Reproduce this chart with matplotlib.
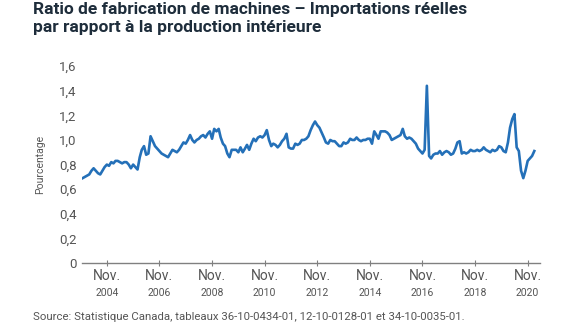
import matplotlib
matplotlib.use("Agg")
import matplotlib.pyplot as plt
import matplotlib.transforms as mtransforms
import pandas as pd

plt.rcParams['font.family'] = ['Roboto', 'DejaVu Sans']

# Monthly ratio, Dec 2003 - Feb 2021
start_month = "2003-12"
ratio = [
    0.69, 0.70, 0.71, 0.72, 0.75, 0.77, 0.75, 0.73, 0.72, 0.75,
    0.78, 0.80, 0.79, 0.82, 0.81, 0.83, 0.83, 0.82, 0.81, 0.82,
    0.82, 0.80, 0.77, 0.80, 0.78, 0.76, 0.86, 0.92, 0.95, 0.88,
    0.89, 1.03, 0.99, 0.95, 0.93, 0.91, 0.89, 0.88, 0.87, 0.86,
    0.89, 0.92, 0.91, 0.90, 0.92, 0.95, 0.98, 0.97, 1.00, 1.04,
    1.00, 0.98, 1.00, 1.01, 1.03, 1.04, 1.02, 1.05, 1.07, 1.01,
    1.09, 1.07, 1.09, 1.02, 0.97, 0.95, 0.89, 0.86, 0.92, 0.92,
    0.92, 0.90, 0.94, 0.90, 0.93, 0.96, 0.92, 0.97, 1.01, 0.99,
    1.02, 1.03, 1.02, 1.04, 1.08, 1.00, 0.95, 0.97, 0.96, 0.94,
    0.96, 0.99, 1.01, 1.05, 0.94, 0.93, 0.93, 0.97, 0.96, 0.97,
    1.00, 1.00, 1.01, 1.03, 1.08, 1.12, 1.15, 1.12, 1.10, 1.06,
    1.02, 0.98, 0.97, 1.00, 0.99, 0.99, 0.97, 0.95, 0.95, 0.98,
    0.97, 0.98, 1.01, 1.00, 1.00, 1.02, 1.00, 0.99, 1.00, 1.00,
    1.01, 1.01, 0.97, 1.07, 1.04, 1.01, 1.07, 1.07, 1.07, 1.06,
    1.04, 1.00, 1.01, 1.02, 1.03, 1.04, 1.09, 1.03, 1.01, 1.02,
    1.01, 0.99, 0.97, 0.93, 0.91, 0.89, 0.92, 1.44, 0.87, 0.85,
    0.88, 0.89, 0.89, 0.91, 0.88, 0.90, 0.91, 0.90, 0.88, 0.89,
    0.93, 0.98, 0.99, 0.89, 0.90, 0.89, 0.90, 0.92, 0.91, 0.91,
    0.92, 0.91, 0.92, 0.94, 0.92, 0.91, 0.90, 0.92, 0.91, 0.92,
    0.95, 0.94, 0.91, 0.90, 0.98, 1.10, 1.17, 1.21, 0.94, 0.91,
    0.75, 0.69, 0.75, 0.83, 0.85, 0.87, 0.91,
]
dates = pd.date_range(start_month, periods=len(ratio), freq="MS")

tick_years = [2004, 2006, 2008, 2010, 2012, 2014, 2016, 2018, 2020]
tick_month_label = "Nov."
y_ticks = [0, 0.2, 0.4, 0.6, 0.8, 1.0, 1.2, 1.4, 1.6]
y_tick_labels = ["0", "0,2", "0,4", "0,6", "0,8", "1,0", "1,2", "1,4", "1,6"]

title = "Ratio de fabrication de machines – Importations réelles\npar rapport à la production intérieure"
ylabel = "Pourcentage"
source = "Source: Statistique Canada, tableaux 36-10-0434-01, 12-10-0128-01 et 34-10-0035-01."

fig = plt.figure(figsize=(5.75, 3.24), dpi=100)
ax = fig.add_axes([0.143, 0.188, 0.796, 0.608])

ax.plot(dates, ratio, color="#2470b8", lw=1.9, solid_joinstyle="round")

ax.set_xlim(pd.Timestamp("2003-11-25"), pd.Timestamp("2021-04-20"))
ax.set_ylim(0, 1.6)
ax.set_yticks(y_ticks)
ax.set_yticklabels(y_tick_labels)

tick_dates = [pd.Timestamp(f"{y}-11-01") for y in tick_years]
ax.set_xticks(tick_dates)
ax.set_xticklabels([tick_month_label] * len(tick_dates))

for s in ["top", "right", "left"]:
    ax.spines[s].set_visible(False)
ax.spines["bottom"].set_color("#808080")
ax.spines["bottom"].set_linewidth(1.0)

ax.tick_params(axis="y", length=0, labelsize=9.5, labelcolor="#555555", pad=4)
ax.tick_params(axis="x", direction="inout", length=4, color="#808080",
               labelsize=10, labelcolor="#555555", pad=2)

trans = mtransforms.blended_transform_factory(ax.transData, ax.transAxes)
for d, y in zip(tick_dates, tick_years):
    ax.text(d, -0.125, str(y), transform=trans, ha="center", va="top",
            fontsize=7.5, color="#555555")

ax.set_ylabel(ylabel, fontsize=7.5, color="#555555", labelpad=10)

fig.text(0.057, 0.995, title, ha="left", va="top", fontsize=12.5,
         fontweight="bold", color="#1e2d3b", linespacing=1.25)
fig.text(0.057, 0.006, source, ha="left", va="bottom", fontsize=8.2,
         color="#555555")

fig.savefig("out.png", dpi=100)
